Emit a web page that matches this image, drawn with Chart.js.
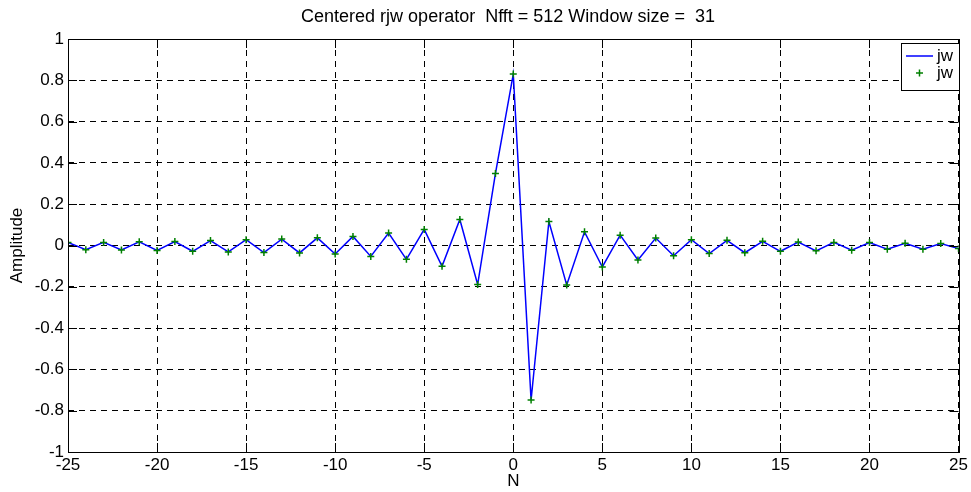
<!DOCTYPE html>
<html>
<head>
<meta charset="utf-8">
<script src="https://cdn.jsdelivr.net/npm/chart.js@4"></script>
<style>
  html, body { margin: 0; padding: 0; background: #fff; }
  #wrap { width: 971px; height: 492px; }
</style>
</head>
<body>
<div id="wrap"><canvas id="myChart" width="971" height="492"></canvas></div>
<script>
// data
const nValues = [-25, -24, -23, -22, -21, -20, -19, -18, -17, -16, -15, -14, -13,
  -12, -11, -10, -9, -8, -7, -6, -5, -4, -3, -2, -1, 0, 1, 2, 3, 4, 5, 6, 7, 8, 9,
  10, 11, 12, 13, 14, 15, 16, 17, 18, 19, 20, 21, 22, 23, 24, 25];
const amplitude = [0.015, -0.020, 0.015, -0.022, 0.018, -0.024, 0.019, -0.028, 0.024,
  -0.031, 0.028, -0.034, 0.031, -0.036, 0.037, -0.041, 0.044, -0.053, 0.060, -0.067,
  0.078, -0.101, 0.126, -0.189, 0.349, 0.830, -0.748, 0.116, -0.191, 0.066, -0.104,
  0.050, -0.070, 0.036, -0.050, 0.028, -0.039, 0.025, -0.035, 0.020, -0.028, 0.017,
  -0.026, 0.015, -0.023, 0.014, -0.018, 0.011, -0.018, 0.010, -0.015];
const xTicks = [-25, -20, -15, -10, -5, 0, 5, 10, 15, 20, 25];
const yTicks = [-1, -0.8, -0.6, -0.4, -0.2, 0, 0.2, 0.4, 0.6, 0.8, 1];
const titleText = "Centered rjw operator  Nfft = 512 Window size =  31";
const legendLabels = ["jw", "jw"];

const FONT = "'Liberation Sans', Arial, Helvetica, sans-serif";
const points = nValues.map((n, i) => ({ x: n, y: amplitude[i] }));

// matlab style box, inward ticks, title and legend
const matlabFrame = {
  id: "matlabFrame",
  afterDraw(chart) {
    const { ctx, chartArea: a, scales } = chart;
    const tl = 9;
    ctx.save();
    ctx.strokeStyle = "#000";
    ctx.lineWidth = 1;
    ctx.beginPath();
    xTicks.forEach((v) => {
      const px = Math.round(scales.x.getPixelForValue(v)) + 0.5;
      ctx.moveTo(px, a.bottom); ctx.lineTo(px, a.bottom - tl);
      ctx.moveTo(px, a.top); ctx.lineTo(px, a.top + tl);
    });
    yTicks.forEach((v) => {
      const py = Math.round(scales.y.getPixelForValue(v)) + 0.5;
      ctx.moveTo(a.left, py); ctx.lineTo(a.left + tl, py);
      ctx.moveTo(a.right, py); ctx.lineTo(a.right - tl, py);
    });
    ctx.stroke();
    ctx.strokeRect(Math.round(a.left) + 0.5, Math.round(a.top) + 0.5,
      Math.round(a.right - a.left), Math.round(a.bottom - a.top));

    // title
    ctx.fillStyle = "#000";
    ctx.font = "18px " + FONT;
    ctx.textAlign = "center";
    ctx.textBaseline = "middle";
    ctx.fillText(titleText, 508, 17);

    // legend
    const bx = 901, by = 43, bw = 58, bh = 47;
    ctx.fillStyle = "#fff";
    ctx.fillRect(bx, by, bw, bh);
    ctx.strokeRect(bx + 0.5, by + 0.5, bw, bh);
    ctx.strokeStyle = "#0000ff";
    ctx.lineWidth = 1.5;
    ctx.beginPath();
    ctx.moveTo(906, 56); ctx.lineTo(933, 56);
    ctx.stroke();
    ctx.strokeStyle = "#008000";
    ctx.beginPath();
    ctx.moveTo(916, 73); ctx.lineTo(923, 73);
    ctx.moveTo(919.5, 69.5); ctx.lineTo(919.5, 76.5);
    ctx.stroke();
    ctx.fillStyle = "#000";
    ctx.font = "17px " + FONT;
    ctx.textAlign = "left";
    ctx.fillText(legendLabels[0], 937, 56);
    ctx.fillText(legendLabels[1], 937, 73);
    ctx.restore();
  },
};

const config = {
  type: "line",
  data: {
    datasets: [
      {
        label: legendLabels[1],
        data: points,
        showLine: false,
        pointStyle: "cross",
        pointRadius: 3.5,
        pointBorderWidth: 1.5,
        borderColor: "#008000",
        backgroundColor: "#008000",
        order: 0,
      },
      {
        label: legendLabels[0],
        data: points,
        borderColor: "#0000ff",
        borderWidth: 1.5,
        pointRadius: 0,
        tension: 0,
        order: 1,
      },
    ],
  },
  options: {
    responsive: false,
    animation: false,
    layout: { padding: { top: 39, right: 10, left: 0, bottom: 0 } },
    scales: {
      x: {
        type: "linear",
        min: -25,
        max: 25,
        afterBuildTicks: (s) => { s.ticks = xTicks.map((v) => ({ value: v })); },
        afterFit: (s) => { s.height = 40; },
        grid: { color: "#000", lineWidth: 1, drawTicks: false },
        border: { display: false, dash: [6, 5] },
        ticks: { color: "#000", padding: 3, maxRotation: 0, font: { family: FONT, size: 17 } },
        title: { display: true, text: "N", color: "#000", padding: { top: 0, bottom: 0 }, font: { family: FONT, size: 17 } },
      },
      y: {
        min: -1,
        max: 1,
        afterBuildTicks: (s) => { s.ticks = yTicks.map((v) => ({ value: v })); },
        afterFit: (s) => { s.width = 68; },
        grid: { color: "#000", lineWidth: 1, drawTicks: false },
        border: { display: false, dash: [6, 5] },
        ticks: {
          color: "#000",
          padding: 4,
          font: { family: FONT, size: 17 },
          callback: (v) => String(Number(v.toFixed(1))),
        },
        title: { display: true, text: "Amplitude", color: "#000", padding: { top: 7, bottom: 7 }, font: { family: FONT, size: 17 } },
      },
    },
    plugins: {
      legend: { display: false },
      tooltip: { enabled: false },
    },
  },
  plugins: [matlabFrame],
};

const myChart = new Chart(document.getElementById("myChart"), config);
</script>
</body>
</html>
